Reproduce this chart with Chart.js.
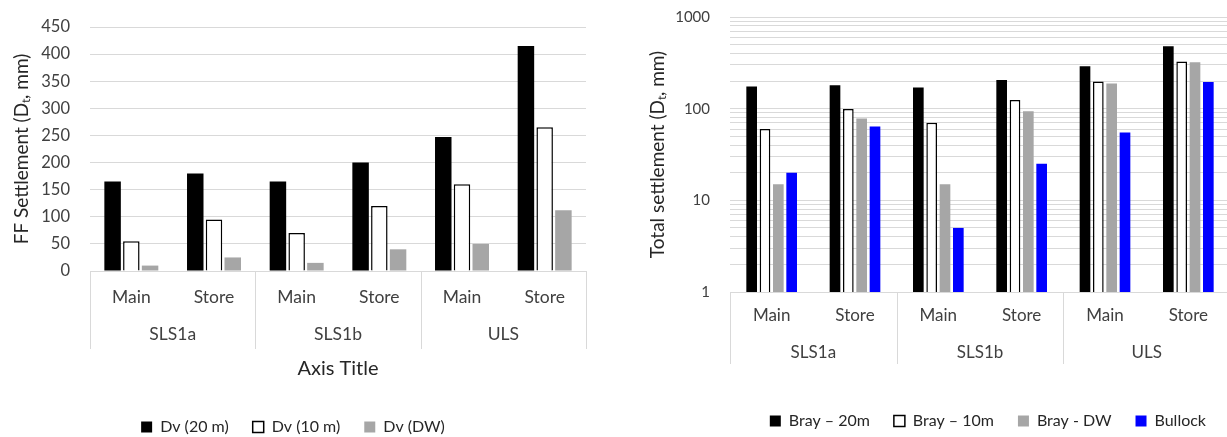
<!DOCTYPE html>
<html>
<head>
<meta charset="utf-8">
<script src="https://cdn.jsdelivr.net/npm/chart.js@4.4.1/dist/chart.umd.min.js"></script>
<style>
  html, body { margin: 0; padding: 0; background: #fff; overflow: hidden; width: 1227px; height: 437px; }
  #esq { position: absolute; left: 0; top: 0; width: 600px; height: 445px; }
  #dir { position: absolute; left: 625px; top: 0; width: 605px; height: 439px; }
</style>
</head>
<body>
<div id="esq"><canvas id="graficoFF"></canvas></div>
<div id="dir"><canvas id="graficoTotal"></canvas></div>
<script>
// ============================
// DADOS
// ============================
const casos = ['Main', 'Store', 'Main', 'Store', 'Main', 'Store'];
const grupos = ['SLS1a', 'SLS1b', 'ULS'];

// FF settlement (mm)
const dv20 = [165, 180, 165, 200, 247, 415];
const dv10 = [55, 95, 70, 120, 160, 265];
const dvDW = [10, 25, 15, 40, 50, 112];

// Total settlement (mm) - escala log
const bray20 = [175, 180, 170, 205, 290, 480];
const bray10 = [60, 99, 70, 124, 198, 328];
const brayDW = [15, 78, 15, 94, 188, 320];
const bullock = [20, 64, 5, 25, 55, 195];

const decadas = [1, 10, 100, 1000];

// ============================
// ESTILO
// ============================
Chart.defaults.font.family = 'Lato, sans-serif';
Chart.defaults.color = '#404040';
const CINZA_GRADE = '#d9d9d9';

// linhas verticais que separam os grupos no eixo de categorias
const separadores = {
  id: 'separadores',
  afterDraw(chart, args, opts) {
    const x = chart.scales.x;
    const ctx = chart.ctx;
    const n = chart.data.labels.length;
    const larg = x.getPixelForValue(1) - x.getPixelForValue(0);
    ctx.save();
    ctx.strokeStyle = CINZA_GRADE;
    ctx.lineWidth = 1;
    for (let i = 0; i <= n; i += 2) {
      const px = Math.round(x.getPixelForValue(i) - larg / 2) + 0.5;
      ctx.beginPath();
      ctx.moveTo(px, chart.chartArea.bottom);
      ctx.lineTo(px, chart.chartArea.bottom + opts.comprimento);
      ctx.stroke();
    }
    ctx.restore();
  }
};

// ============================
// GRÁFICO 1 - FF SETTLEMENT
// ============================
new Chart(document.getElementById('graficoFF'), {
  type: 'bar',
  data: {
    labels: casos,
    datasets: [
      { label: 'Dv (20 m)', data: dv20, backgroundColor: '#000000', borderColor: '#000000', borderWidth: 0 },
      { label: 'Dv (10 m)', data: dv10, backgroundColor: '#ffffff', borderColor: '#000000', borderWidth: 1.5 },
      { label: 'Dv (DW)', data: dvDW, backgroundColor: '#a6a6a6', borderColor: '#a6a6a6', borderWidth: 0 }
    ]
  },
  plugins: [separadores],
  options: {
    responsive: true,
    maintainAspectRatio: false,
    animation: false,
    categoryPercentage: 0.68,
    barPercentage: 0.88,
    layout: { padding: { top: 27, right: 14, left: 0, bottom: 0 } },
    plugins: {
      separadores: { comprimento: 78 },
      tooltip: { enabled: false },
      legend: {
        position: 'bottom',
        labels: { boxWidth: 11, boxHeight: 11, padding: 24, font: { size: 16 }, color: '#262626' }
      }
    },
    scales: {
      y: {
        min: 0, max: 450,
        ticks: { stepSize: 50, padding: 0, font: { size: 16.5 }, color: '#404040' },
        grid: { color: CINZA_GRADE, drawTicks: true, tickLength: 20, tickColor: 'rgba(0,0,0,0)' },
        border: { display: false },
        title: { display: true, text: 'FF Settlement (Dₜ, mm)', font: { size: 19 }, color: '#262626', padding: { top: 10.5, bottom: 0 } },
        afterFit(s) { s.width = 90; }
      },
      x: {
        ticks: { padding: 15.5, font: { size: 17.5 }, color: '#404040' },
        grid: { display: false, drawTicks: false },
        border: { display: false },
        afterFit(s) { s.height = 50; }
      },
      x2: {
        type: 'category',
        labels: grupos,
        offset: true,
        position: 'bottom',
        ticks: { padding: 3, font: { size: 17.5 }, color: '#404040' },
        grid: { display: false, drawTicks: false },
        border: { display: false },
        title: { display: true, text: 'Axis Title', font: { size: 20 }, color: '#262626', padding: { top: 0, bottom: 14 } },
        afterFit(s) { s.height = 74; }
      }
    }
  }
});

// ============================
// GRÁFICO 2 - TOTAL SETTLEMENT (LOG)
// ============================
new Chart(document.getElementById('graficoTotal'), {
  type: 'bar',
  data: {
    labels: casos,
    datasets: [
      { label: 'Bray – 20m', data: bray20, backgroundColor: '#000000', borderColor: '#000000', borderWidth: 0 },
      { label: 'Bray – 10m', data: bray10, backgroundColor: '#ffffff', borderColor: '#000000', borderWidth: 1.5 },
      { label: 'Bray - DW', data: brayDW, backgroundColor: '#a6a6a6', borderColor: '#a6a6a6', borderWidth: 0 },
      { label: 'Bullock', data: bullock, backgroundColor: '#0000ff', borderColor: '#0000ff', borderWidth: 0 }
    ]
  },
  plugins: [separadores],
  options: {
    responsive: true,
    maintainAspectRatio: false,
    animation: false,
    categoryPercentage: 0.64,
    barPercentage: 0.8,
    layout: { padding: { top: 17, right: 0, left: 0, bottom: 0 } },
    plugins: {
      separadores: { comprimento: 72 },
      tooltip: { enabled: false },
      legend: {
        position: 'bottom',
        align: 'end',
        labels: { boxWidth: 11, boxHeight: 11, padding: 24, font: { size: 16 }, color: '#262626' }
      }
    },
    scales: {
      y: {
        type: 'logarithmic',
        min: 1, max: 1000,
        afterBuildTicks(s) {
          const t = [];
          for (let i = 0; i < decadas.length - 1; i++) {
            for (let k = 1; k < 10; k++) t.push({ value: decadas[i] * k });
          }
          t.push({ value: decadas[decadas.length - 1] });
          s.ticks = t;
        },
        ticks: {
          autoSkip: false,
          padding: 0,
          font: { size: 15 },
          color: '#404040',
          callback: (v) => decadas.includes(v) ? String(v) : ''
        },
        grid: { color: CINZA_GRADE, drawTicks: true, tickLength: 20, tickColor: 'rgba(0,0,0,0)' },
        border: { display: false },
        title: { display: true, text: 'Total settlement (Dₜ, mm)', font: { size: 19 }, color: '#262626', padding: { top: 21.5, bottom: 0 } },
        afterFit(s) { s.width = 105; }
      },
      x: {
        ticks: { padding: 13.5, font: { size: 17 }, color: '#404040' },
        grid: { display: false, drawTicks: false },
        border: { display: false },
        afterFit(s) { s.height = 45; }
      },
      x2: {
        type: 'category',
        labels: grupos,
        offset: true,
        position: 'bottom',
        ticks: { padding: 5.5, font: { size: 17 }, color: '#404040' },
        grid: { display: false, drawTicks: false },
        border: { display: false },
        afterFit(s) { s.height = 52; }
      }
    }
  }
});
</script>
</body>
</html>
